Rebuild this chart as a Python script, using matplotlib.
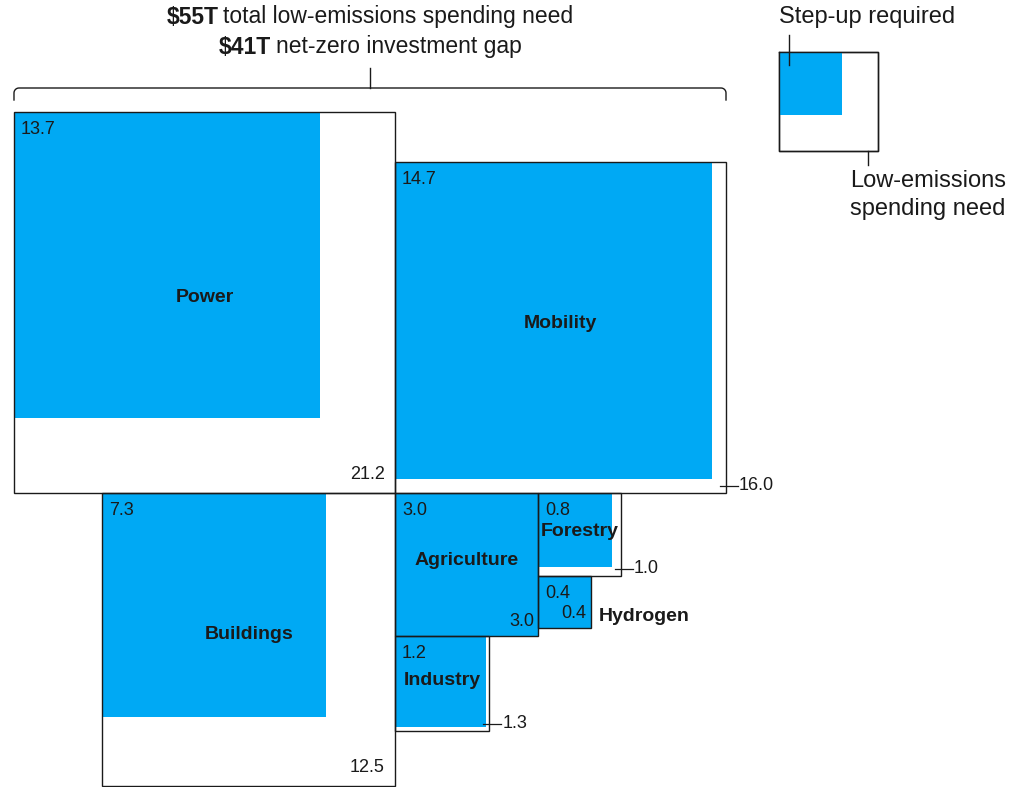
import numpy as np
import matplotlib.pyplot as plt
from matplotlib.patches import Rectangle

# $T
sectors = ['Power', 'Mobility', 'Buildings', 'Agriculture', 'Forestry', 'Hydrogen', 'Industry']
spend_need = [21.2, 16.0, 12.5, 3.0, 1.0, 0.4, 1.3]   # low-emissions spending need
step_up = [13.7, 14.7, 7.3, 3.0, 0.8, 0.4, 1.2]       # step-up required
total_need = 55
invest_gap = 41

BLUE = '#00A9F4'
INK = '#1a1a1a'
plt.rcParams['font.family'] = ['Liberation Sans', 'DejaVu Sans']
plt.rcParams['text.color'] = INK

W, H = 1018, 787
fig = plt.figure(figsize=(W / 100, H / 100), dpi=100)
ax = fig.add_axes([0, 0, 1, 1])
ax.set_xlim(0, W)
ax.set_ylim(H, 0)
ax.axis('off')

scale = 82.75  # px per sqrt($T), square area ~ value
side = {s: np.sqrt(v) * scale for s, v in zip(sectors, spend_need)}
inner = {s: np.sqrt(v) * scale for s, v in zip(sectors, step_up)}
need = dict(zip(sectors, spend_need))
step = dict(zip(sectors, step_up))

# squares packed around one junction point
ox, oy = 395, 493
pos = {
    'Power': (ox - side['Power'], oy - side['Power']),
    'Mobility': (ox, oy - side['Mobility']),
    'Buildings': (ox - side['Buildings'], oy),
    'Agriculture': (ox, oy),
    'Forestry': (ox + side['Agriculture'], oy),
    'Hydrogen': (ox + side['Agriculture'], oy + side['Forestry']),
    'Industry': (ox, oy + side['Agriculture']),
}
outer_lab = {'Power': 'in', 'Buildings': 'in', 'Agriculture': 'in', 'Hydrogen': 'in',
             'Mobility': 'tick', 'Forestry': 'tick', 'Industry': 'tick'}

VAL = 13
NAME = 14
for s in sectors:
    x0, y0 = pos[s]
    a, b = side[s], inner[s]
    x1, y1 = x0 + a, y0 + a
    ax.add_patch(Rectangle((x0, y0), a, a, fc='white', ec='none', zorder=1))
    ax.add_patch(Rectangle((x0, y0), b, b, fc=BLUE, ec='none', zorder=2))
    ax.add_patch(Rectangle((x0, y0), a, a, fill=False, ec=INK, lw=1.0, zorder=3))
    ax.text(x0 + 7, y0 + 9, '%.1f' % step[s], ha='left', va='top', fontsize=VAL, zorder=4)
    if outer_lab[s] == 'in':
        px, py = (10, 10) if a > 200 else (4, 6)
        ax.text(x1 - px, y1 - py, '%.1f' % need[s], ha='right', va='bottom', fontsize=VAL, zorder=4)
    else:
        ax.plot([x1 - 6, x1 + 12], [y1 - 7, y1 - 7], color=INK, lw=0.9, zorder=4)
        ax.text(x1 + 13, y1 - 7, '%.1f' % need[s], ha='left', va='center', fontsize=VAL, zorder=4)
    if s == 'Hydrogen':
        ax.text(x1 + 8, y1 - 12, s, ha='left', va='center', fontsize=NAME, fontweight='bold')
    elif a < 100:
        ax.text(x0 + a / 2, y0 + a / 2 - 3, s, ha='center', va='center', fontsize=NAME,
                fontweight='bold', zorder=4)
    else:
        ax.text(x0 + a / 2, y0 + a / 2, s, ha='center', va='baseline', fontsize=NAME,
                fontweight='bold', zorder=4)

# bracket over Power + Mobility
bl = pos['Power'][0]
br = pos['Mobility'][0] + side['Mobility']
cx = (bl + br) / 2
yb, yt, r = 100, 88, 5
t = np.linspace(0, np.pi / 2, 10)
xs = np.concatenate([[bl], bl + r - r * np.cos(t), br - r + r * np.sin(t), [br]])
ys = np.concatenate([[yb], yt + r - r * np.sin(t), yt + r - r * np.cos(t), [yb]])
ax.plot(xs, ys, color=INK, lw=1.0)
ax.plot([cx, cx], [68, yt], color=INK, lw=1.0)

renderer = fig.canvas.get_renderer()


def mixed(x, y, bold, rest, size):
    t1 = ax.text(0, y, bold, fontweight='bold', fontsize=size, va='center', ha='left')
    t2 = ax.text(0, y, rest, fontsize=size, va='center', ha='left')
    gap = 5
    w1 = t1.get_window_extent(renderer).width
    w2 = t2.get_window_extent(renderer).width
    start = x - (w1 + gap + w2) / 2
    t1.set_x(start)
    t2.set_x(start + w1 + gap)


mixed(cx, 17, r'\$%dT' % total_need, 'total low-emissions spending need', 16.5)
mixed(cx, 47, r'\$%dT' % invest_gap, 'net-zero investment gap', 16.5)

# legend
lx, ly, la, lb = 779, 52, 99, 63
ax.add_patch(Rectangle((lx, ly), la, la, fc='white', ec=INK, lw=1.0))
ax.add_patch(Rectangle((lx, ly), lb, lb, fc=BLUE, ec='none'))
ax.plot([lx, lx + la, lx + la, lx, lx], [ly, ly, ly + la, ly + la, ly], color=INK, lw=1.0)
ax.plot([lx + 10, lx + 10], [35, 65], color=INK, lw=1.0)
ax.text(lx, 17, 'Step-up required', ha='left', va='center', fontsize=17)
ax.plot([lx + 89, lx + 89], [ly + la, ly + la + 14], color=INK, lw=1.0)
ax.text(850, 181, 'Low-emissions', ha='left', va='center', fontsize=17)
ax.text(850, 209, 'spending need', ha='left', va='center', fontsize=17)

fig.savefig('out.png', dpi=100)
